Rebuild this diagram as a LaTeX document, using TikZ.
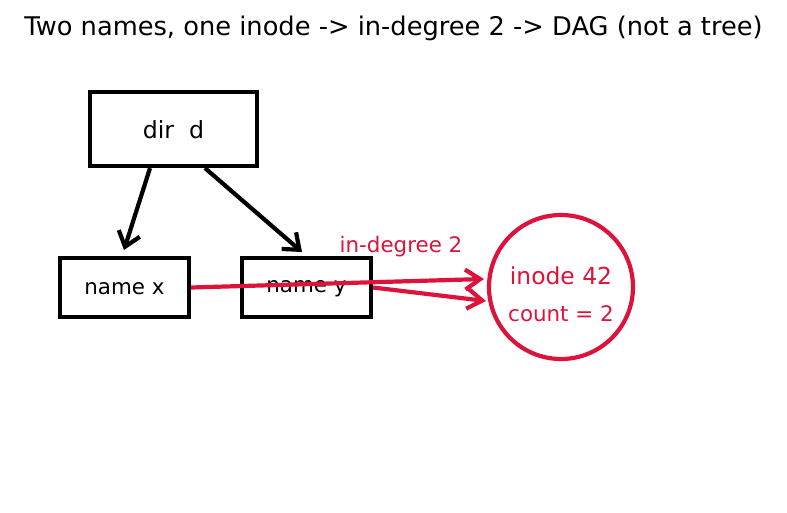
\documentclass[tikz,border=0pt]{standalone}
\usepackage{fontspec}
\setmainfont{DejaVu Sans}
\usetikzlibrary{arrows.meta}
\definecolor{crim}{RGB}{220,20,60}
\tikzset{
  box/.style={draw=black, line width=4.2pt, minimum width=167pt, minimum height=74pt, inner sep=0pt, fill=white},
  namebox/.style={draw=black, line width=4.2pt, minimum width=129pt, minimum height=59pt, inner sep=0pt, fill=white},
  blk/.style={line width=4.2pt, black, -{Straight Barb[length=14pt, width=22pt, line width=4.2pt]}},
  red/.style={line width=4.2pt, crim, -{Straight Barb[length=15pt, width=20pt, line width=4.2pt]}},
  lbl/.style={font=\fontsize{21.4}{24}\selectfont}
}
\begin{document}
\begin{tikzpicture}[x=1pt,y=-1pt]
\useasboundingbox (0,0) rectangle (787,512);
\node[font=\fontsize{25.7}{30}\selectfont] (title) at (393.5,28) {Two names, one inode -> in-degree 2 -> DAG (not a tree)};
\node[box] (d) at (173.5,129) {};
\node[font=\fontsize{23.6}{26}\selectfont] (dl) at (173.5,129.5) {dir\ \ d};
\node[namebox] (nx) at (124.5,287.5) {};
\node[lbl] (nxl) at (124.5,288.5) {name x};
\node[draw=crim, line width=4.2pt, circle, minimum size=144pt, inner sep=0pt] (ino) at (561,287) {};
\node[text=crim, font=\fontsize{23.4}{26}\selectfont] (t1) at (561,276) {inode 42};
\node[lbl, text=crim] (t2) at (561,314) {count = 2};
\node[lbl, text=crim] (deg) at (401,246.5) {in-degree 2};
\coordinate (a1) at (124,250);
\coordinate (a2) at (302,252);
\draw[blk] (d.south -| 150,0) -- (a1);
\draw[blk] (d.south -| 205,0) -- (a2);
\node[namebox, fill=none] (ny) at (306.5,287.5) {};
\node[lbl] (nyl) at (306.5,288.5) {name y};
\coordinate (r1) at (484,279);
\coordinate (r2) at (486,301);
\draw[red] (nx.east) -- (r1);
\draw[red] (ny.east) -- (r2);
\end{tikzpicture}
\end{document}
